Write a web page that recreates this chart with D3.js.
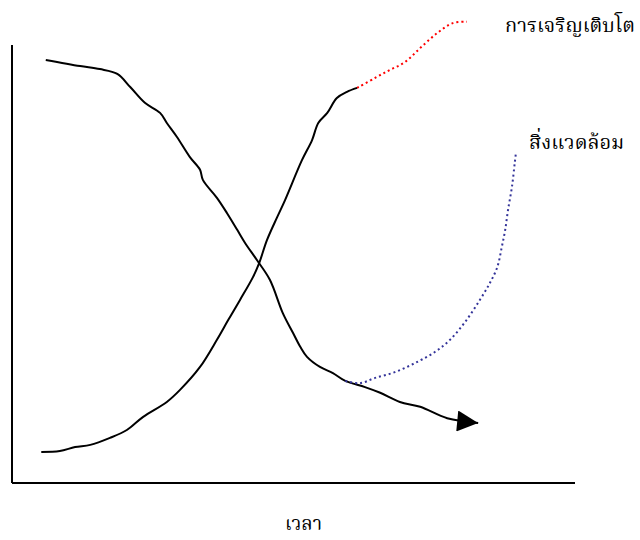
<!DOCTYPE html>
<html>
<head>
<meta charset="utf-8">
<script src="https://cdn.jsdelivr.net/npm/d3@7"></script>
<style>
  body { margin: 0; background: #fff; }
  text { font-family: "Noto Serif Thai", "Noto Sans Thai", serif; }
</style>
</head>
<body>
<script>
// growth curve (solid part), then its dotted continuation
var growthX = [5.2, 8.5, 11.2, 13.9, 17.4, 20.4, 23.3, 27.5, 29.8, 33.4, 36.4, 38.4, 40.5, 42.8, 43.9, 45.3, 47.1, 48.5, 51.5, 53.3, 54.4, 56.0, 57.7, 59.5, 61.3];
var growthY = [7.1, 7.3, 8.2, 8.7, 10.3, 12.1, 15.1, 18.5, 21.2, 26.5, 32.7, 37.2, 41.8, 47.0, 50.2, 55.5, 60.7, 64.6, 73.7, 78.3, 82.2, 84.5, 87.9, 89.3, 90.2];
var growthMoreX = [61.3, 64.5, 67.1, 69.8, 72.5, 75.5, 78.3, 80.8];
var growthMoreY = [90.2, 92.5, 94.3, 96.1, 99.3, 102.7, 105.0, 105.3];

// environment curve (falls, then rises again as a dotted line)
var envX = [6.0, 12.1, 15.6, 18.7, 21.0, 23.6, 26.3, 27.5, 29.3, 31.6, 33.4, 33.9, 36.4, 38.2, 40.0, 41.4, 43.5, 45.8, 48.1, 49.9, 51.2, 52.4, 54.7, 57.0, 59.2, 62.7, 65.4, 68.9, 72.5, 77.3, 82.8];
var envY = [96.6, 95.2, 94.5, 93.4, 90.4, 86.8, 84.5, 82.2, 79.0, 74.4, 71.5, 69.2, 65.1, 61.6, 57.8, 54.8, 50.9, 46.4, 38.8, 34.3, 31.1, 28.8, 26.5, 25.1, 23.3, 21.9, 20.6, 18.5, 17.4, 14.8, 13.7];
var envMoreX = [59.2, 61.8, 64.5, 68.0, 71.6, 75.1, 77.8, 80.5, 83.1, 84.9, 86.2, 87.0, 87.6, 88.1, 88.8, 89.3, 89.5];
var envMoreY = [23.3, 22.8, 24.0, 25.3, 27.4, 29.9, 32.7, 36.8, 41.8, 45.7, 49.3, 53.9, 57.8, 62.3, 67.6, 73.1, 75.3];

var labels = ["การเจริญเติบโต", "สิ่งแวดล้อม", "เวลา"];

var w = 640;
var h = 540;

var svg = d3.select("body")
  .append("svg")
  .attr("width", w)
  .attr("height", h);

var x = d3.scaleLinear().domain([0, 100]).range([12, 575]);
var y = d3.scaleLinear().domain([0, 100]).range([483, 45]);

svg.append("defs").append("marker")
  .attr("id", "arrow")
  .attr("viewBox", "0 0 10 10")
  .attr("refX", 10)
  .attr("refY", 5)
  .attr("markerUnits", "userSpaceOnUse")
  .attr("markerWidth", 22)
  .attr("markerHeight", 21)
  .attr("orient", "auto")
  .append("path")
  .attr("d", "M0,0L10,5L0,10Z")
  .attr("fill", "#000");

// axes (no ticks)
svg.append("line")
  .attr("x1", x(0)).attr("x2", x(0))
  .attr("y1", y(0)).attr("y2", y(100))
  .attr("stroke", "#000").attr("stroke-width", 2);
svg.append("line")
  .attr("x1", x(0)).attr("x2", x(100))
  .attr("y1", y(0)).attr("y2", y(0))
  .attr("stroke", "#000").attr("stroke-width", 2);

var line = d3.line()
  .x(function(d) { return x(d[0]); })
  .y(function(d) { return y(d[1]); })
  .curve(d3.curveCatmullRom);

function pts(xs, ys) {
  return xs.map(function(v, i) { return [v, ys[i]]; });
}

svg.append("path")
  .attr("d", line(pts(growthX, growthY)))
  .attr("fill", "none").attr("stroke", "#000").attr("stroke-width", 2);

svg.append("path")
  .attr("d", line(pts(growthMoreX, growthMoreY)))
  .attr("fill", "none").attr("stroke", "#ff0000").attr("stroke-width", 2)
  .attr("stroke-dasharray", "2,3");

svg.append("path")
  .attr("d", line(pts(envX, envY)))
  .attr("fill", "none").attr("stroke", "#000").attr("stroke-width", 2)
  .attr("marker-end", "url(#arrow)");

svg.append("path")
  .attr("d", line(pts(envMoreX, envMoreY)))
  .attr("fill", "none").attr("stroke", "#333399").attr("stroke-width", 2)
  .attr("stroke-dasharray", "2,3");

svg.append("text")
  .attr("x", 505).attr("y", 32)
  .attr("font-size", 20)
  .text(labels[0]);

svg.append("text")
  .attr("x", 529).attr("y", 149)
  .attr("font-size", 20)
  .text(labels[1]);

svg.append("text")
  .attr("x", 285).attr("y", 530)
  .attr("font-size", 19)
  .text(labels[2]);
</script>
</body>
</html>
